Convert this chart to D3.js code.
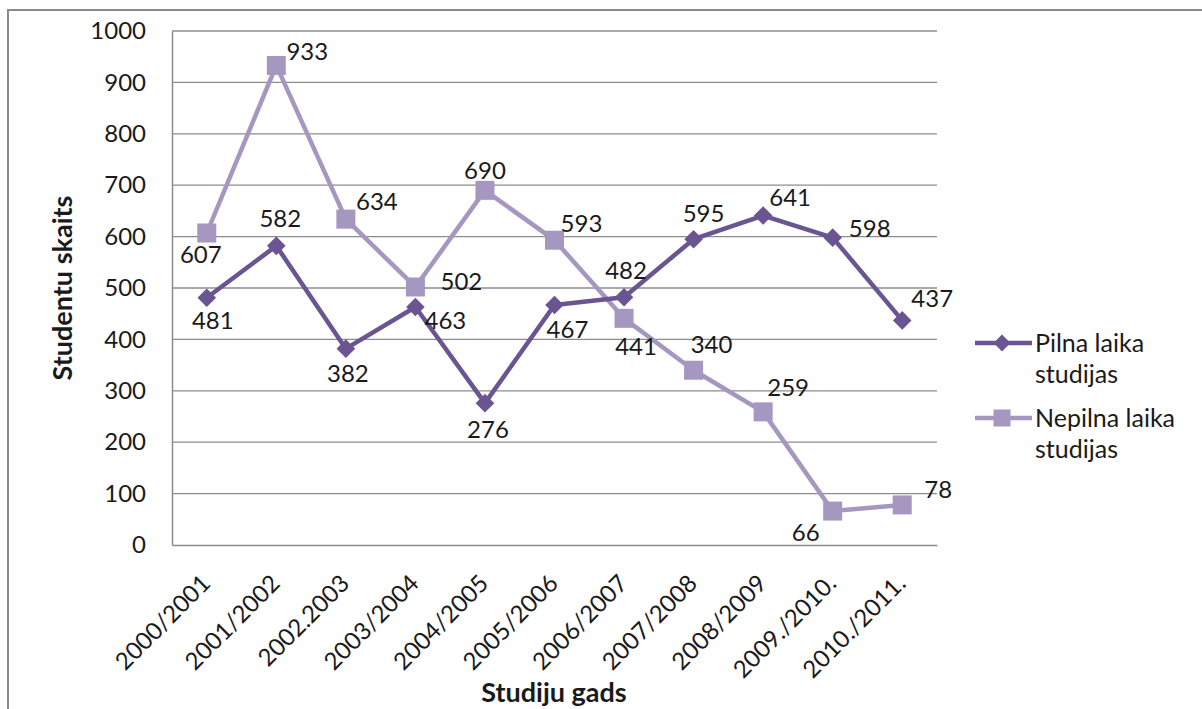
<!DOCTYPE html>
<html>
<head>
<meta charset="utf-8">
<script src="https://cdn.jsdelivr.net/npm/d3@7"></script>
<style>
  html, body { margin: 0; padding: 0; background: #fff; }
  svg { display: block; font-family: Lato, "Open Sans", sans-serif; }
</style>
</head>
<body>
<svg id="chart" width="1202" height="709"></svg>
<script>
// ---- data ----
const years = ["2000/2001","2001/2002","2002.2003","2003/2004","2004/2005","2005/2006","2006/2007","2007/2008","2008/2009","2009./2010.","2010./2011."];
const pilna = [481, 582, 382, 463, 276, 467, 482, 595, 641, 598, 437];
const nepilna = [607, 933, 634, 502, 690, 593, 441, 340, 259, 66, 78];
const yTicks = [0, 100, 200, 300, 400, 500, 600, 700, 800, 900, 1000];
const seriesNames = [["Pilna laika", "studijas"], ["Nepilna laika", "studijas"]];
const yTitle = "Studentu skaits";
const xTitle = "Studiju gads";

// ---- label placement (layout only) ----
const pilnaLabelOffset = [[6,22],[4,-28],[2,24],[30,12],[3,25],[13,24],[2,-28],[10,-27],[27,-19],[37,-10],[30,-23]];
const nepilnaLabelOffset = [[-6,20],[31,-15],[31,-19],[46,-6],[0,-21],[27,-18],[12,27],[18,-27],[25,-25],[-27,20],[36,-16]];

const darkC = "#6A5592";
const lightC = "#A697C1";
const textC = "#1a1a1a";
const gridC = "#8c8c8c";

const svg = d3.select("#chart");

// outer border (extends beyond the visible area)
svg.append("rect").attr("x", 8).attr("y", 10).attr("width", 1300).attr("height", 800)
  .attr("fill", "none").attr("stroke", "#8a8a8a").attr("stroke-width", 2);

const plot = { left: 172, right: 937, top: 31, bottom: 545 };

const x = d3.scaleBand().domain(years).range([plot.left, plot.right]);
const y = d3.scaleLinear().domain([0, 1000]).range([plot.bottom, plot.top]);
const cx = d => x(d) + x.bandwidth() / 2;

// gridlines
svg.append("g").selectAll("line").data(yTicks.filter(t => t > 0)).join("line")
  .attr("x1", plot.left).attr("x2", plot.right)
  .attr("y1", d => y(d)).attr("y2", d => y(d))
  .attr("stroke", gridC).attr("stroke-width", 1.3);

// y axis
const yAxis = svg.append("g").attr("transform", `translate(${plot.left},0)`)
  .call(d3.axisLeft(y).tickValues(yTicks).tickSize(0).tickPadding(26).tickFormat(d3.format("d")));
yAxis.select(".domain").attr("stroke", gridC).attr("stroke-width", 1.5);
yAxis.selectAll("text").attr("font-size", 24).attr("fill", textC).attr("font-family", "Lato, 'Open Sans', sans-serif");

// x axis
const xAxis = svg.append("g").attr("transform", `translate(0,${plot.bottom})`)
  .call(d3.axisBottom(x).tickSize(0).tickFormat(d => d));
xAxis.select(".domain").attr("stroke", gridC).attr("stroke-width", 1.5);
xAxis.selectAll("text")
  .attr("font-size", 24).attr("fill", textC).attr("font-family", "Lato, 'Open Sans', sans-serif")
  .attr("text-anchor", "end")
  .attr("dy", null).attr("y", null)
  .attr("transform", "translate(5,40) rotate(-45)");

// lines
const line = d3.line().x((d, i) => cx(years[i])).y(d => y(d));
svg.append("path").datum(nepilna).attr("d", line).attr("fill", "none")
  .attr("stroke", lightC).attr("stroke-width", 4.5).attr("stroke-linejoin", "round");
svg.append("path").datum(pilna).attr("d", line).attr("fill", "none")
  .attr("stroke", darkC).attr("stroke-width", 4.5).attr("stroke-linejoin", "round");

// markers
const sq = 19;
svg.append("g").selectAll("rect").data(nepilna).join("rect")
  .attr("x", (d, i) => cx(years[i]) - sq / 2).attr("y", d => y(d) - sq / 2)
  .attr("width", sq).attr("height", sq).attr("fill", lightC);
const diamond = d3.symbol().type(d3.symbolDiamond2).size(220);
svg.append("g").selectAll("path").data(pilna).join("path")
  .attr("d", diamond)
  .attr("transform", (d, i) => `translate(${cx(years[i])},${y(d)})`)
  .attr("fill", darkC);

// data labels
function labels(data, off) {
  svg.append("g").selectAll("text").data(data).join("text")
    .attr("x", (d, i) => cx(years[i]) + off[i][0])
    .attr("y", (d, i) => y(d) + off[i][1])
    .attr("text-anchor", "middle").attr("dominant-baseline", "central")
    .attr("font-size", 24).attr("fill", textC)
    .text(d => d);
}
labels(nepilna, nepilnaLabelOffset);
labels(pilna, pilnaLabelOffset);

// axis titles
svg.append("text").attr("transform", "translate(72,288) rotate(-90)")
  .attr("text-anchor", "middle").attr("font-size", 27).attr("font-weight", "bold")
  .attr("fill", textC).text(yTitle);
svg.append("text").attr("x", 554).attr("y", 702)
  .attr("text-anchor", "middle").attr("font-size", 27).attr("font-weight", "bold")
  .attr("fill", textC).text(xTitle);

// legend
const leg = svg.append("g");
const legRows = [{ y: 343, color: darkC, kind: "diamond" }, { y: 418, color: lightC, kind: "square" }];
legRows.forEach((r, k) => {
  leg.append("line").attr("x1", 975).attr("x2", 1032).attr("y1", r.y).attr("y2", r.y)
    .attr("stroke", r.color).attr("stroke-width", 4.5);
  if (r.kind === "diamond") {
    leg.append("path").attr("d", d3.symbol().type(d3.symbolDiamond2).size(180))
      .attr("transform", `translate(1002,${r.y})`).attr("fill", r.color);
  } else {
    leg.append("rect").attr("x", 1002 - 8.5).attr("y", r.y - 8.5).attr("width", 17).attr("height", 17).attr("fill", r.color);
  }
  const t = leg.append("text").attr("x", 1035).attr("y", r.y + 9).attr("font-size", 25).attr("fill", textC);
  t.append("tspan").attr("x", 1035).text(seriesNames[k][0]);
  t.append("tspan").attr("x", 1035).attr("dy", 31).text(seriesNames[k][1]);
});
</script>
</body>
</html>
